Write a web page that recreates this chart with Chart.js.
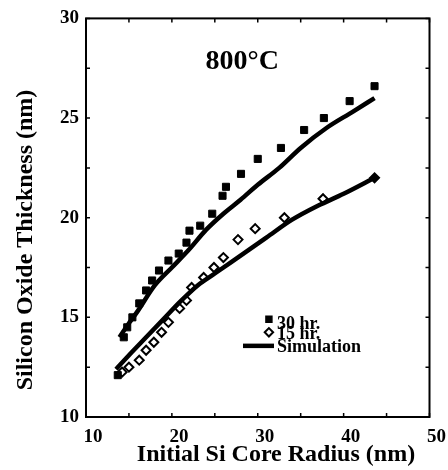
<!DOCTYPE html>
<html><head><meta charset="utf-8">
<script src="https://cdn.jsdelivr.net/npm/chart.js@4/dist/chart.umd.min.js"></script>
<style>html,body{margin:0;padding:0;background:#fff;}canvas{display:block;}</style>
</head><body>
<canvas id="c" width="448" height="470" style="width:448px;height:470px"></canvas>
<script>
// ---- data ----
const sq30X = [13.7, 14.4, 14.8, 15.4, 16.2, 17.0, 17.7, 18.5, 19.6, 20.8, 21.7, 22.05, 23.3, 24.7, 25.9, 26.3, 28.05, 30.0, 32.7, 35.4, 37.7, 40.7, 43.6];
const sq30Y = [12.1, 14.0, 14.5, 15.0, 15.7, 16.35, 16.85, 17.35, 17.85, 18.2, 18.75, 19.35, 19.6, 20.2, 21.1, 21.55, 22.2, 22.95, 23.5, 24.4, 25.0, 25.85, 26.6];
const dm15X = [14.2, 15.0, 16.2, 17.0, 17.9, 18.8, 19.6, 20.9, 21.7, 22.3, 23.7, 24.9, 26.0, 27.7, 29.7, 33.1, 37.6, 43.6];
const dm15Y = [12.25, 12.5, 12.85, 13.35, 13.75, 14.25, 14.75, 15.45, 15.85, 16.5, 17.0, 17.5, 18.0, 18.9, 19.45, 20.0, 20.95, 22.0];
const sim30X = [13.9, 15, 16, 18, 20, 22, 24, 26, 28, 30, 32.5, 35, 38, 41, 43.6];
const sim30Y = [14.0, 14.7, 15.3, 16.6, 17.5, 18.4, 19.4, 20.2, 20.9, 21.65, 22.5, 23.5, 24.5, 25.3, 26.0];
const sim15X = [13.5, 15, 17, 19, 21, 23, 25, 27, 29, 31, 34, 37, 40, 43.6];
const sim15Y = [12.4, 13.1, 14.0, 14.9, 15.8, 16.6, 17.2, 17.8, 18.4, 19.0, 19.9, 20.6, 21.2, 22.0];
const xTicks = [10, 20, 30, 40, 50];
const xMinor = [15, 25, 35, 45];
const yTicks = [10, 15, 20, 25, 30];
const yMinor = [12.5, 17.5, 22.5, 27.5];
const legendLabels = ['30 hr.', '15 hr.', 'Simulation'];
const panelTitle = '800°C';
const xTitle = 'Initial Si Core Radius (nm)';
const yTitle = 'Silicon Oxide Thickness (nm)';

const FONT = '"Liberation Serif", "Times New Roman", serif';
const pts = (xs, ys) => xs.map((x, i) => ({x, y: ys[i]}));

const decor = {
  id: 'decor',
  afterDraw(chart) {
    const ctx = chart.ctx, xs = chart.scales.x, ys = chart.scales.y;
    const a = chart.chartArea;
    ctx.save();
    ctx.strokeStyle = '#000'; ctx.lineWidth = 2;
    ctx.strokeRect(a.left, a.top, a.right - a.left, a.bottom - a.top);
    ctx.lineWidth = 1.5;
    const tk = (vals, len) => {
      vals.forEach(v => {
        const p = xs.getPixelForValue(v);
        ctx.beginPath(); ctx.moveTo(p, a.bottom); ctx.lineTo(p, a.bottom - len);
        ctx.moveTo(p, a.top); ctx.lineTo(p, a.top + len); ctx.stroke();
      });
    };
    const tky = (vals, len) => {
      vals.forEach(v => {
        const p = ys.getPixelForValue(v);
        ctx.beginPath(); ctx.moveTo(a.left, p); ctx.lineTo(a.left + len, p);
        ctx.moveTo(a.right, p); ctx.lineTo(a.right - len, p); ctx.stroke();
      });
    };
    tk(xTicks, 4); tk(xMinor, 4); tky(yTicks, 4); tky(yMinor, 4);

    ctx.fillStyle = '#000';
    // panel label
    ctx.font = 'bold 28px ' + FONT;
    ctx.textAlign = 'center'; ctx.textBaseline = 'alphabetic';
    ctx.fillText(panelTitle, xs.getPixelForValue(28.2), ys.getPixelForValue(27.45));
    // axis titles
    ctx.font = 'bold 24px ' + FONT;
    ctx.fillText(xTitle, 276, 461);
    ctx.save();
    ctx.translate(32, 240); ctx.rotate(-Math.PI / 2);
    ctx.font = 'bold 24px ' + FONT;
    ctx.fillText(yTitle, 0, 0);
    ctx.restore();
    // legend
    const lx = xs.getPixelForValue(31.3);
    Chart.helpers.drawPoint(ctx, {pointStyle: 'rect', radius: 4.2, borderWidth: 1}, lx, ys.getPixelForValue(14.9));
    ctx.fillStyle = '#fff'; ctx.lineWidth = 2;
    ctx.beginPath();
    Chart.helpers.drawPoint(ctx, {pointStyle: 'rectRot', radius: 4.2, borderWidth: 2}, lx, ys.getPixelForValue(14.25));
    ctx.fillStyle = '#000';
    ctx.lineWidth = 4.5; ctx.lineCap = 'butt';
    ctx.beginPath();
    ctx.moveTo(243, ys.getPixelForValue(13.57)); ctx.lineTo(274, ys.getPixelForValue(13.57)); ctx.stroke();
    ctx.font = 'bold 18px ' + FONT; ctx.textAlign = 'left';
    ctx.fillText(legendLabels[0], 277, ys.getPixelForValue(14.4));
    ctx.fillText(legendLabels[1], 277, ys.getPixelForValue(13.9));
    ctx.fillText(legendLabels[2], 277, ys.getPixelForValue(13.25));
    ctx.restore();
  }
};

new Chart(document.getElementById('c'), {
  type: 'scatter',
  data: {
    datasets: [
      {label: 'Simulation 30 hr.', data: pts(sim30X, sim30Y), showLine: true, borderColor: '#000', borderWidth: 4.5, pointRadius: 0, cubicInterpolationMode: 'monotone', order: 0},
      {label: 'Simulation 15 hr.', data: pts(sim15X, sim15Y), showLine: true, borderColor: '#000', borderWidth: 4.5, pointRadius: 0, cubicInterpolationMode: 'monotone', order: 0},
      {label: '30 hr.', data: pts(sq30X, sq30Y), pointStyle: 'rect', pointRadius: 5, borderWidth: 1, backgroundColor: '#000', borderColor: '#000', order: 1},
      {label: '15 hr.', data: pts(dm15X, dm15Y), pointStyle: 'rectRot', pointRadius: 4.5, borderWidth: 2, borderColor: '#000',
       pointBackgroundColor: ctx => ctx.dataIndex === dm15X.length - 1 ? '#000' : '#fff', order: 1}
    ]
  },
  options: {
    responsive: false, animation: false, devicePixelRatio: 1,
    layout: {padding: {top: 16, right: 14, left: 0, bottom: 0}},
    plugins: {legend: {display: false}, tooltip: {enabled: false}},
    scales: {
      x: {
        type: 'linear', min: 10, max: 50,
        afterBuildTicks: s => { s.ticks = xTicks.map(v => ({value: v})); },
        afterFit: s => { s.height = 53; },
        grid: {display: false, drawTicks: false},
        border: {display: false},
        ticks: {color: '#000', font: {family: FONT, size: 19, weight: 'bold'}, padding: 9, labelOffset: 7, maxRotation: 0}
      },
      y: {
        type: 'linear', min: 10, max: 30,
        afterBuildTicks: s => { s.ticks = yTicks.map(v => ({value: v})); },
        afterFit: s => { s.width = 86; },
        grid: {display: false, drawTicks: false},
        border: {display: false},
        ticks: {color: '#000', font: {family: FONT, size: 19, weight: 'bold'}, padding: 7}
      }
    }
  },
  plugins: [decor]
});
</script>
</body></html>
